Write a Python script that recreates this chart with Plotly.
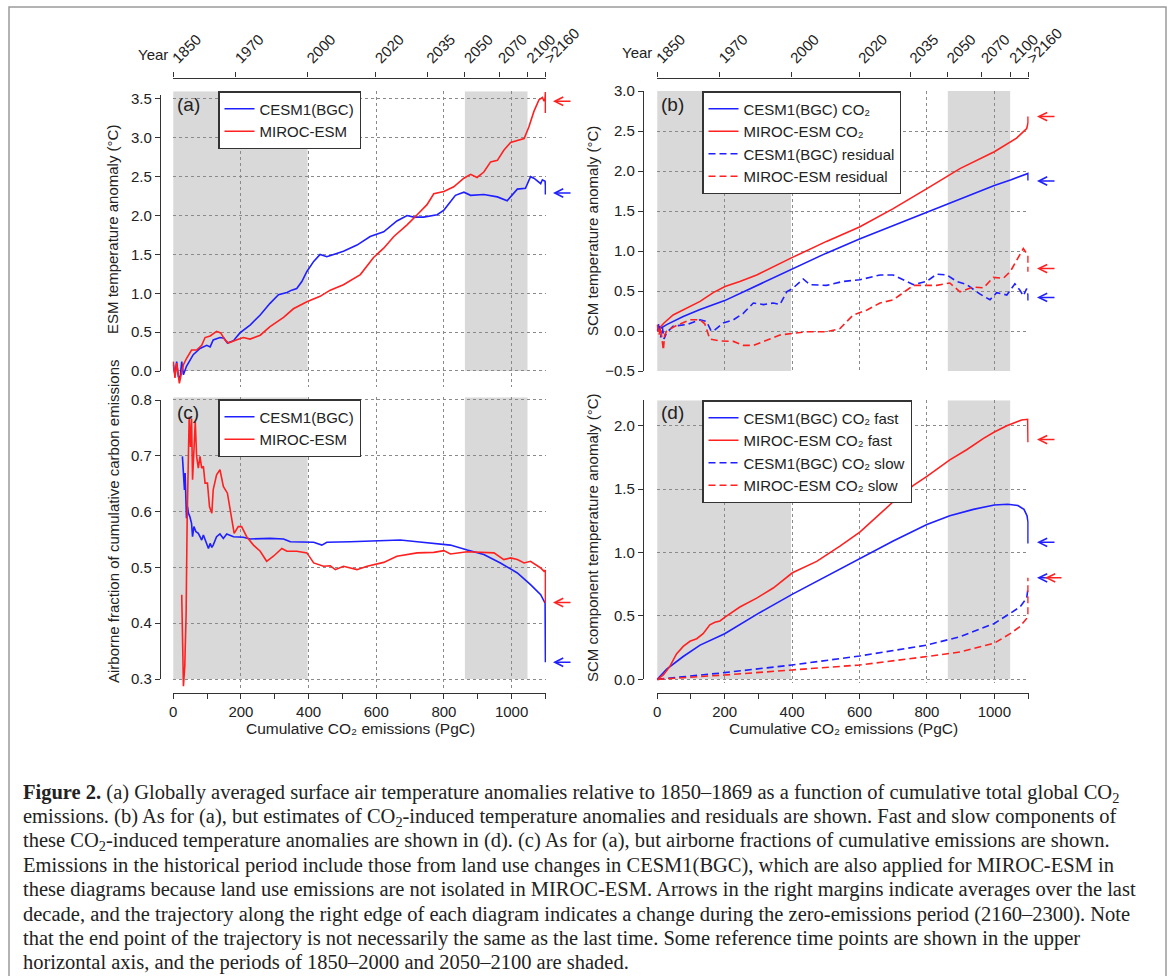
import plotly.graph_objects as go

# ------------------------------------------------------------------ data
year_ticks_E = [0, 185, 397, 599, 751, 862, 963, 1047, 1100]
year_labels = ["1850", "1970", "2000", "2020", "2035", "2050", "2070", "2100", ">2160"]
shade_E0 = [0, 862]      # 1850 and 2050 (PgC)
shade_E1 = [397, 1047]   # 2000 and 2100 (PgC)

# (a) ESM temperature anomaly
a_cesm_E = [0, 5, 10, 15, 20, 25, 30, 35, 39, 59, 79, 99, 109, 118, 138, 150, 160, 178, 197, 227,
            257, 286, 311, 336, 350, 365, 380, 395, 415, 434, 454, 474, 503, 543, 582, 622, 661, 691,
            711, 740, 780, 800, 819, 834, 859, 879, 918, 958, 987, 1002, 1017, 1041, 1056, 1066,
            1076, 1086, 1091, 1099, 1100, 1100, 1100]
a_cesm_T = [0.08, -0.05, 0.12, -0.07, -0.09, 0.12, -0.05, 0.03, 0.06, 0.21, 0.29, 0.33, 0.31, 0.40,
            0.43, 0.42, 0.36, 0.39, 0.49, 0.59, 0.72, 0.87, 0.98, 1.01, 1.04, 1.06, 1.15, 1.28, 1.41,
            1.50, 1.47, 1.50, 1.54, 1.62, 1.73, 1.79, 1.93, 2.00, 1.98, 1.98, 2.01, 2.07, 2.18, 2.26,
            2.30, 2.26, 2.27, 2.24, 2.19, 2.26, 2.34, 2.35, 2.50, 2.48, 2.44, 2.41, 2.46, 2.44, 2.38,
            2.31, 2.27]
a_miroc_E = [0, 5, 10, 18, 25, 30, 39, 54, 69, 84, 94, 109, 128, 140, 153, 163, 188, 207, 227, 257,
             286, 326, 355, 395, 434, 464, 503, 553, 592, 622, 652, 691, 721, 750, 770, 800, 829, 859,
             879, 898, 918, 938, 958, 977, 997, 1017, 1037, 1051, 1066, 1081, 1091, 1096, 1099, 1100,
             1100, 1100]
a_miroc_T = [0.12, -0.09, 0.10, -0.16, -0.01, 0.08, 0.16, 0.27, 0.27, 0.33, 0.43, 0.45, 0.51, 0.49,
             0.40, 0.36, 0.40, 0.43, 0.41, 0.46, 0.57, 0.69, 0.80, 0.89, 0.96, 1.04, 1.11, 1.24, 1.46,
             1.58, 1.73, 1.88, 2.01, 2.14, 2.28, 2.31, 2.37, 2.48, 2.53, 2.49, 2.56, 2.69, 2.71, 2.84,
             2.94, 2.97, 2.99, 3.14, 3.34, 3.49, 3.52, 3.47, 3.51, 3.59, 3.32, 3.42]
arrows_a = [2.29, 3.47]

# (b) SCM CO2-induced and residual
b_cesm_co2_E = [0, 28, 77, 127, 200, 300, 400, 500, 600, 700, 800, 900, 1000, 1050, 1096, 1100, 1100]
b_cesm_co2_T = [0.01, 0.08, 0.18, 0.27, 0.38, 0.58, 0.78, 0.97, 1.15, 1.32, 1.49, 1.66, 1.82, 1.89,
                1.97, 1.97, 1.88]
b_miroc_co2_E = [0, 20, 47, 87, 127, 166, 201, 245, 295, 401, 502, 600, 700, 800, 898, 1000, 1066,
                 1096, 1100, 1100]
b_miroc_co2_T = [0.01, 0.10, 0.20, 0.29, 0.37, 0.48, 0.555, 0.62, 0.70, 0.92, 1.12, 1.30, 1.53, 1.78,
                 2.03, 2.24, 2.41, 2.53, 2.60, 2.68]
b_cesm_res_E = [0, 5, 10, 15, 20, 28, 47, 87, 127, 146, 160, 170, 196, 226, 255, 285, 315, 344, 364,
                384, 401, 423, 433, 453, 502, 552, 601, 661, 700, 760, 799, 829, 859, 888, 918, 958,
                987, 1007, 1037, 1061, 1076, 1086, 1096, 1100, 1100]
b_cesm_res_T = [0.0, 0.10, -0.08, 0.05, -0.10, -0.02, 0.06, 0.08, 0.14, 0.12, 0.0, 0.01, 0.10, 0.14,
                0.22, 0.35, 0.33, 0.35, 0.33, 0.49, 0.53, 0.62, 0.65, 0.58, 0.57, 0.62, 0.64, 0.70,
                0.70, 0.58, 0.62, 0.71, 0.70, 0.62, 0.58, 0.46, 0.39, 0.48, 0.45, 0.59, 0.51, 0.44,
                0.53, 0.45, 0.37]
b_miroc_res_E = [0, 5, 10, 18, 22, 28, 57, 97, 127, 141, 156, 186, 226, 255, 285, 325, 364, 401, 443,
                 502, 542, 581, 621, 661, 700, 720, 760, 799, 829, 868, 898, 938, 968, 997, 1027, 1047,
                 1066, 1086, 1096, 1100, 1100]
b_miroc_res_T = [0.08, -0.05, 0.05, -0.24, -0.05, 0.0, 0.07, 0.14, 0.14, 0.09, -0.10, -0.125, -0.13,
                 -0.18, -0.18, -0.11, -0.05, -0.03, -0.01, -0.01, 0.03, 0.20, 0.26, 0.35, 0.39, 0.45,
                 0.57, 0.57, 0.57, 0.60, 0.49, 0.55, 0.54, 0.67, 0.66, 0.74, 0.89, 1.03, 0.97, 0.95, 0.74]
arrows_b = [1.875, 2.68, 0.42, 0.78]

# (c) airborne fraction
c_cesm_E = [27, 30, 33, 35, 37, 39, 42, 45, 49, 54, 57, 61, 67, 74, 79, 84, 89, 97, 104, 109, 114,
            118, 128, 138, 148, 158, 178, 207, 227, 286, 326, 346, 385, 415, 439, 454, 523, 602, 671,
            721, 770, 819, 869, 918, 967, 1017, 1056, 1086, 1099, 1100, 1100]
c_cesm_AF = [0.699, 0.657, 0.639, 0.669, 0.615, 0.588, 0.609, 0.597, 0.591, 0.579, 0.555, 0.573,
             0.564, 0.561, 0.555, 0.549, 0.558, 0.543, 0.534, 0.543, 0.536, 0.540, 0.555, 0.560,
             0.552, 0.560, 0.555, 0.554, 0.551, 0.552, 0.551, 0.546, 0.546, 0.545, 0.540, 0.545,
             0.546, 0.548, 0.549, 0.546, 0.543, 0.540, 0.531, 0.523, 0.508, 0.490, 0.469, 0.451,
             0.436, 0.40, 0.33]
c_miroc_E = [25, 27, 30, 34, 38, 41, 47, 51, 54, 57, 61, 65, 69, 74, 79, 84, 89, 94, 101, 107, 114,
             118, 128, 138, 148, 160, 170, 180, 192, 202, 217, 237, 257, 276, 296, 321, 336, 365, 395,
             415, 444, 464, 479, 503, 543, 573, 622, 661, 721, 770, 800, 819, 869, 918, 948, 977, 997,
             1017, 1037, 1056, 1076, 1086, 1096, 1100, 1100]
c_miroc_AF = [0.451, 0.358, 0.287, 0.323, 0.418, 0.585, 0.770, 0.716, 0.767, 0.657, 0.716, 0.761,
              0.699, 0.678, 0.699, 0.678, 0.681, 0.651, 0.651, 0.609, 0.597, 0.639, 0.666, 0.675,
              0.645, 0.633, 0.597, 0.561, 0.573, 0.573, 0.555, 0.540, 0.529, 0.511, 0.520, 0.534,
              0.529, 0.529, 0.526, 0.508, 0.502, 0.503, 0.496, 0.502, 0.496, 0.502, 0.509, 0.520,
              0.526, 0.527, 0.530, 0.524, 0.528, 0.526, 0.526, 0.514, 0.517, 0.514, 0.508, 0.511,
              0.503, 0.499, 0.493, 0.495, 0.436]
arrows_c = [0.33, 0.437]

# (d) fast / slow components
d_cesm_fast_E = [0, 28, 77, 127, 200, 300, 400, 500, 600, 700, 800, 868, 938, 1000, 1040, 1070, 1088,
                 1097, 1100, 1100]
d_cesm_fast_T = [0.0, 0.08, 0.18, 0.27, 0.36, 0.52, 0.67, 0.81, 0.95, 1.09, 1.22, 1.29, 1.34, 1.375,
                 1.38, 1.37, 1.34, 1.29, 1.24, 1.07]
d_miroc_fast_E = [0, 18, 37, 57, 77, 97, 117, 136, 156, 171, 186, 201, 245, 295, 344, 401, 473, 542,
                  601, 641, 700, 760, 800, 868, 918, 968, 1000, 1037, 1066, 1081, 1099, 1100]
d_miroc_fast_T = [0.0, 0.035, 0.10, 0.20, 0.26, 0.30, 0.32, 0.36, 0.43, 0.45, 0.46, 0.49, 0.57, 0.64,
                  0.72, 0.84, 0.93, 1.05, 1.16, 1.26, 1.40, 1.53, 1.60, 1.73, 1.81, 1.90, 1.95, 2.00,
                  2.03, 2.045, 2.05, 1.87]
d_cesm_slow_E = [0, 200, 400, 600, 800, 898, 1000, 1047, 1076, 1096, 1100]
d_cesm_slow_T = [0.0, 0.053, 0.113, 0.184, 0.27, 0.336, 0.44, 0.52, 0.57, 0.64, 0.72]
d_miroc_slow_E = [0, 200, 400, 600, 800, 898, 1000, 1047, 1076, 1096, 1100, 1100]
d_miroc_slow_T = [0.0, 0.034, 0.074, 0.113, 0.18, 0.215, 0.285, 0.36, 0.415, 0.48, 0.52, 0.80]
arrows_d = [1.08, 1.89, 0.80, 0.80]

caption_lines = [
    "<b>Figure 2.</b> (a) Globally averaged surface air temperature anomalies relative to 1850–1869 as a function of cumulative total global CO<sub>2</sub>",
    "emissions. (b) As for (a), but estimates of CO<sub>2</sub>-induced temperature anomalies and residuals are shown. Fast and slow components of",
    "these CO<sub>2</sub>-induced temperature anomalies are shown in (d). (c) As for (a), but airborne fractions of cumulative emissions are shown.",
    "Emissions in the historical period include those from land use changes in CESM1(BGC), which are also applied for MIROC-ESM in",
    "these diagrams because land use emissions are not isolated in MIROC-ESM. Arrows in the right margins indicate averages over the last",
    "decade, and the trajectory along the right edge of each diagram indicates a change during the zero-emissions period (2160–2300). Note",
    "that the end point of the trajectory is not necessarily the same as the last time. Some reference time points are shown in the upper",
    "horizontal axis, and the periods of 1850–2000 and 2050–2100 are shaded.",
]

# ------------------------------------------------------------------ layout helpers
W, H = 1171, 976
def px(p):
    return p / W
def py(p):
    return 1 - p / H

BLUE = "#1f1fff"
RED = "#ff2020"
FONT = "Liberation Sans, Arial, Helvetica, sans-serif"
SERIF = "Liberation Serif, Times New Roman, serif"
AXC = "#333333"
GRIDC = "#8a8a8a"
SHADE = "#d9d9d9"
XR = [-2, 1102]

fig = go.Figure()

def add(x, y, color, name, xa, ya, leg, dash="solid"):
    fig.add_trace(go.Scatter(x=x, y=y, mode="lines", name=name, xaxis=xa, yaxis=ya, legend=leg,
                             line=dict(color=color, width=1.6,
                                       dash=("7px,4px" if dash == "dash" else "solid")),
                             hoverinfo="skip"))

add(a_cesm_E, a_cesm_T, BLUE, "CESM1(BGC)", "x", "y", "legend")
add(a_miroc_E, a_miroc_T, RED, "MIROC-ESM", "x", "y", "legend")
add(b_cesm_co2_E, b_cesm_co2_T, BLUE, "CESM1(BGC) CO₂", "x2", "y2", "legend2")
add(b_miroc_co2_E, b_miroc_co2_T, RED, "MIROC-ESM CO₂", "x2", "y2", "legend2")
add(b_cesm_res_E, b_cesm_res_T, BLUE, "CESM1(BGC) residual", "x2", "y2", "legend2", "dash")
add(b_miroc_res_E, b_miroc_res_T, RED, "MIROC-ESM residual", "x2", "y2", "legend2", "dash")
add(c_cesm_E, c_cesm_AF, BLUE, "CESM1(BGC)", "x3", "y3", "legend3")
add(c_miroc_E, c_miroc_AF, RED, "MIROC-ESM", "x3", "y3", "legend3")
add(d_cesm_fast_E, d_cesm_fast_T, BLUE, "CESM1(BGC) CO₂ fast", "x4", "y4", "legend4")
add(d_miroc_fast_E, d_miroc_fast_T, RED, "MIROC-ESM CO₂ fast", "x4", "y4", "legend4")
add(d_cesm_slow_E, d_cesm_slow_T, BLUE, "CESM1(BGC) CO₂ slow", "x4", "y4", "legend4", "dash")
add(d_miroc_slow_E, d_miroc_slow_T, RED, "MIROC-ESM CO₂ slow", "x4", "y4", "legend4", "dash")

# invisible traces so that the top "Year" axes and the tick-range y axes are drawn
def ghost(xa, ya):
    fig.add_trace(go.Scatter(x=year_ticks_E, y=[None] * len(year_ticks_E), xaxis=xa, yaxis=ya,
                             mode="markers", marker=dict(opacity=0), showlegend=False,
                             hoverinfo="skip"))
ghost("x5", "y")
ghost("x6", "y2")
ghost("x7", "y5")
ghost("x8", "y6")
ghost("x9", "y7")
ghost("x10", "y8")

# panel geometry (pixels)
XL_dom = [px(172.6), px(546.1)]
XRt_dom = [px(656.6), px(1028.7)]
panels = {
    "a": dict(x="x", y="y", yd="yaxis5", xh="xaxis7", xdom=XL_dom, ydom=[py(386.5), py(91.2)],
              yr=[-0.2, 3.6], dydom=[py(371), py(95.1)], dyr=[0, 3.55], dt=0.5, shade=[0, 3.6],
              ypos=px(160)),
    "b": dict(x="x2", y="y2", yd="yaxis6", xh="xaxis8", xdom=XRt_dom, ydom=[py(371), py(91)],
              yr=[-0.5, 3.0], dydom=[py(371), py(91)], dyr=[-0.5, 3.0], dt=0.5,
              shade=[-0.5, 3.0], ypos=px(643)),
    "c": dict(x="x3", y="y3", yd="yaxis7", xh="xaxis9", xdom=XL_dom, ydom=[py(688.5), py(397.2)],
              yr=[0.283, 0.805], dydom=[py(679), py(400)], dyr=[0.3, 0.8], dt=0.1,
              shade=[0.3, 0.805], ypos=px(160)),
    "d": dict(x="x4", y="y4", yd="yaxis8", xh="xaxis10", xdom=XRt_dom,
              ydom=[py(682.5), py(400.3)], yr=[-0.025, 2.2], dydom=[py(679.3), py(400.3)],
              dyr=[0.0, 2.2], dt=0.5, shade=[0.0, 2.2], ypos=px(643)),
}

tickfont = dict(family=FONT, size=15, color="#222")
layout = dict(template="none", width=W, height=H,
              margin=dict(l=0, r=0, t=0, b=0, pad=0, autoexpand=False),
              plot_bgcolor="rgba(0,0,0,0)", paper_bgcolor="white", showlegend=True,
              font=dict(family=FONT, color="#222"))
shapes = []
for key, p in panels.items():
    xi = p["x"][1:] or ""
    yi = p["y"][1:] or ""
    bottom = key in ("c", "d")
    xa = dict(domain=p["xdom"], range=XR, showgrid=True, gridcolor=GRIDC, griddash="dot",
              gridwidth=1, tickmode="linear", tick0=0, dtick=200, zeroline=False,
              automargin=False, showline=bottom, linecolor=AXC, linewidth=1.3,
              ticks="outside" if bottom else "", ticklen=5, tickcolor=AXC,
              showticklabels=bottom, tickfont=tickfont)
    if bottom:
        xa.update(anchor="free", position=py(693),
                  minor=dict(ticks="outside", dtick=100, tick0=0, ticklen=5, tickcolor=AXC,
                             showgrid=False))
    else:
        xa.update(anchor=p["y"])
    # data axis: carries the dotted grid only
    ya = dict(domain=p["ydom"], range=p["yr"], anchor=p["x"], showgrid=True, gridcolor=GRIDC,
              griddash="dot", gridwidth=1, tickmode="linear", tick0=0, dtick=p["dt"],
              zeroline=False, automargin=False, showline=False, ticks="", showticklabels=False)
    # display axis: line, ticks and labels over the tick range only
    yd = dict(domain=p["dydom"], range=p["dyr"], anchor="free", position=p["ypos"],
              showgrid=False, tickmode="linear", tick0=0, dtick=p["dt"], tickformat=".1f",
              zeroline=False, automargin=False, showline=True, linecolor=AXC, linewidth=1.3,
              ticks="outside", ticklen=5, tickcolor=AXC, tickfont=tickfont)
    # hidden x axis paired with the display y axis (no grid)
    xh = dict(domain=p["xdom"], range=XR, visible=False, showgrid=False, zeroline=False,
              automargin=False, anchor="free", position=0)
    layout["xaxis" + xi] = xa
    layout["yaxis" + yi] = ya
    layout[p["yd"]] = yd
    layout[p["xh"]] = xh
    for e0, e1 in zip(shade_E0, shade_E1):
        shapes.append(dict(type="rect", xref=p["x"], yref=p["y"], x0=e0, x1=e1,
                           y0=p["shade"][0], y1=p["shade"][1], fillcolor=SHADE,
                           line=dict(width=0), layer="below"))

# top year axes
for name, over in (("xaxis5", "x"), ("xaxis6", "x2")):
    layout[name] = dict(overlaying=over, side="top", anchor="free", position=py(77.5), range=XR,
                        tickmode="array", tickvals=year_ticks_E, ticktext=year_labels,
                        tickangle=-45, showline=True, linecolor=AXC, linewidth=1.3,
                        ticks="outside", ticklen=5, tickcolor=AXC, showgrid=False,
                        zeroline=False, automargin=False, tickfont=tickfont)

# legends
legbase = dict(bgcolor="white", bordercolor="#333", borderwidth=1.5, xanchor="left", yanchor="top",
               font=dict(family=FONT, size=15, color="#222"), tracegroupgap=0, itemwidth=30)
layout["legend"] = dict(legbase, x=px(218), y=py(91))
layout["legend2"] = dict(legbase, x=px(702), y=py(91))
layout["legend3"] = dict(legbase, x=px(218), y=py(399))
layout["legend4"] = dict(legbase, x=px(702), y=py(400))

# frame around the figure
shapes.append(dict(type="rect", xref="paper", yref="paper", x0=px(9), x1=px(1166), y0=-0.05,
                   y1=py(7), line=dict(color="#9a9a9a", width=1.5), layer="above"))
layout["shapes"] = shapes

ann = []
def txt(x, y, s, size=15, angle=0, xanchor="center", family=FONT):
    ann.append(dict(xref="paper", yref="paper", x=px(x), y=py(y), text=s, showarrow=False,
                    textangle=angle, xanchor=xanchor, yanchor="middle", borderpad=0,
                    font=dict(family=family, size=size, color="#222")))

txt(188, 104.5, "(a)", 19)
txt(672, 104, "(b)", 19)
txt(188, 412, "(c)", 19)
txt(672, 412, "(d)", 19)
txt(153, 55, "Year", 15)
txt(637, 53, "Year", 15)
txt(113, 230, "ESM temperature anomaly (°C)", 15, -90)
txt(113, 522, "Airborne fraction of cumulative carbon emissions", 15, -90)
txt(592, 231, "SCM temperature anomaly (°C)", 15, -90)
txt(592, 538, "SCM component temperature anomaly (°C)", 15, -90)
txt(360, 728, "Cumulative CO₂ emissions (PgC)", 15.5)
txt(843.5, 728, "Cumulative CO₂ emissions (PgC)", 15.5)

for i, line in enumerate(caption_lines):
    txt(22, 793 + 24.2 * i, line, 20.5, 0, "left", SERIF)

# arrows (last-decade averages)
def arrow(xref, yref, xfrac, val, color, length=19):
    ann.append(dict(xref=xref, yref=yref, x=xfrac, y=val, ax=length, ay=0, text="",
                    showarrow=True, arrowhead=5, arrowsize=1.1, arrowwidth=1.5,
                    arrowcolor=color, standoff=0))

arrow("x domain", "y", 1.0185, arrows_a[0], BLUE)
arrow("x domain", "y", 1.0185, arrows_a[1], RED)
arrow("x2 domain", "y2", 1.0223, arrows_b[0], BLUE)
arrow("x2 domain", "y2", 1.0223, arrows_b[1], RED)
arrow("x2 domain", "y2", 1.0223, arrows_b[2], BLUE)
arrow("x2 domain", "y2", 1.0223, arrows_b[3], RED)
arrow("x3 domain", "y3", 1.0185, arrows_c[0], BLUE)
arrow("x3 domain", "y3", 1.0185, arrows_c[1], RED)
arrow("x4 domain", "y4", 1.0223, arrows_d[0], BLUE)
arrow("x4 domain", "y4", 1.0223, arrows_d[1], RED)
arrow("x4 domain", "y4", 1.0223, arrows_d[2], BLUE, 13)
arrow("x4 domain", "y4", 1.0438, arrows_d[3], RED, 18)
layout["annotations"] = ann

fig.update_layout(layout)
fig.write_html("out.html", config={"displayModeBar": False},
               post_script="document.body.style.margin='0px';"
                           "document.body.style.overflow='hidden';")
